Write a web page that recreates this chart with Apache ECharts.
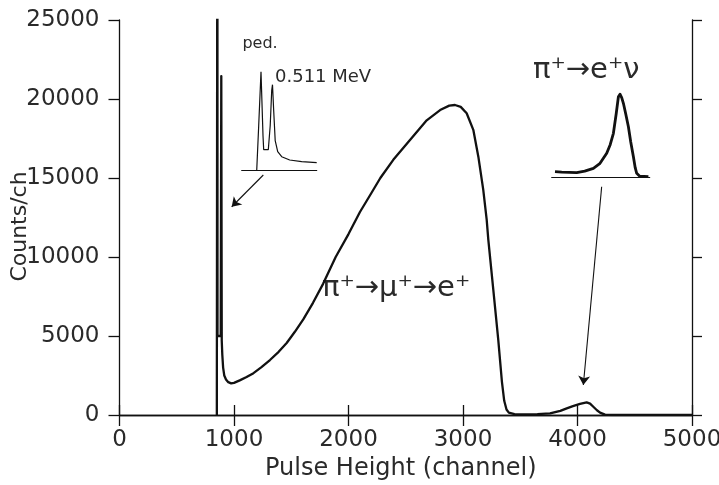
<!DOCTYPE html>
<html>
<head>
<meta charset="utf-8">
<script src="https://cdn.jsdelivr.net/npm/echarts@6/dist/echarts.min.js"></script>
<style>
html,body{margin:0;padding:0;background:#fff;}
#chart{width:719px;height:485px;}
</style>
</head>
<body>
<div id="chart"></div>
<script>
// ---- main spectrum: pulse height (channel) vs counts per channel ----
const channels = [850, 854, 855, 856, 884, 889, 893, 898, 905, 915, 930, 950, 975, 1000,
  1050, 1110, 1170, 1240, 1314, 1390, 1460, 1530, 1605, 1690, 1778, 1888, 2000, 2100,
  2200, 2278, 2391, 2537, 2683, 2800, 2880, 2930, 2980, 3032, 3090, 3134, 3177, 3207,
  3221, 3265, 3308, 3340, 3360, 3380, 3400, 3450, 3550, 3650, 3760, 3850, 3906, 3960,
  4022, 4080, 4110, 4138, 4170, 4197, 4240, 4300, 5000];
const counts = [0, 0, 40000, 5000, 5000, 21450, 4700, 3800, 3000, 2500, 2250, 2080, 2000, 2030,
  2190, 2400, 2650, 3030, 3480, 4000, 4560, 5250, 6050, 7100, 8300, 10000, 11450, 12850,
  14050, 15000, 16150, 17400, 18650, 19300, 19580, 19620, 19500, 19100, 18050, 16350, 14250, 12350,
  11100, 7900, 4750, 2100, 900, 350, 150, 60, 40, 50, 100, 260, 420, 560,
  700, 800, 720, 525, 300, 150, 20, 0, 0];

// ---- inset 1: pedestal and 0.511 MeV peaks (arbitrary units) ----
const pedX = [15, 17, 19.3, 21.3, 22, 24, 26.6, 28.5, 30, 30.8, 32, 33.5, 36, 40, 48, 60, 75];
const pedY = [0, 45, 99, 35, 21, 20, 21, 45, 80, 86, 60, 30, 19, 14, 10.7, 9, 8];

// ---- inset 2: pi -> e nu peak (arbitrary units) ----
const enuX = [3.3, 10, 25, 33, 41.7, 48, 55, 58.5, 61.7, 64.5, 66.7, 68.3, 70, 71.7, 74, 76.7, 79, 81.7, 83.5, 85, 88, 90, 96.7];
const enuY = [6, 5.5, 5, 6.5, 9.4, 14, 24.4, 33, 44.4, 64, 81, 83.5, 80, 74.4, 64, 51, 36, 21, 10, 4.4, 1.5, 1, 1];

// ---- axes ----
const xMin = 0, xMax = 5000, xStep = 1000;
const yMin = 0, yMax = 25000, yStep = 5000;
const xTitle = 'Pulse Height (channel)';
const yTitle = 'Counts/ch';

// ---- annotations ----
const arrowPed = [[1256, 15190], [980, 13180]];
const arrowEnu = [[4211, 14450], [4051, 1900]];

const FONT = '"DejaVu Sans", sans-serif';
const INK = '#111';
const TXT = '#2a2a2a';

const pairs = (xs, ys) => xs.map((x, i) => [x, ys[i]]);

const frameLine = {lineStyle: {color: INK, width: 1.3}};
const tick = len => ({show: true, inside: false, length: len, lineStyle: {color: INK, width: 1.3}});

const chart = echarts.init(document.getElementById('chart'), null, {renderer: 'canvas'});
chart.setOption({
  animation: false,
  backgroundColor: '#fff',
  grid: [
    {left: 119.5, right: 27, top: 20, bottom: 70, outerBoundsMode: 'none', containLabel: false},
    {left: 241.7, width: 75, top: 70.7, height: 100, outerBoundsMode: 'none', containLabel: false},
    {left: 551.7, width: 98, top: 77.7, height: 100, outerBoundsMode: 'none', containLabel: false}
  ],
  xAxis: [
    {gridIndex: 0, type: 'value', min: xMin, max: xMax, interval: xStep, position: 'bottom',
     axisLine: frameLine, axisTick: tick(11), splitLine: {show: false},
     axisLabel: {fontSize: 23, color: TXT, fontFamily: FONT, margin: 14, formatter: v => String(v)},
     name: xTitle, nameLocation: 'middle', nameGap: 42, nameMoveOverlap: false,
     nameTextStyle: {fontSize: 24, color: TXT, fontFamily: FONT, padding: [0, 10, 0, 0]}},
    {gridIndex: 0, type: 'value', min: xMin, max: xMax, interval: xStep, position: 'top',
     axisLine: frameLine, axisTick: tick(10), splitLine: {show: false}, axisLabel: {show: false}},
    {gridIndex: 1, type: 'value', min: 0, max: 75, position: 'bottom',
     axisLine: {onZero: false, lineStyle: {color: INK, width: 1.2}}, axisTick: {show: false},
     axisLabel: {show: false}, splitLine: {show: false}},
    {gridIndex: 2, type: 'value', min: 0, max: 98, position: 'bottom',
     axisLine: {onZero: false, lineStyle: {color: INK, width: 1.2}}, axisTick: {show: false},
     axisLabel: {show: false}, splitLine: {show: false}}
  ],
  yAxis: [
    {gridIndex: 0, type: 'value', min: yMin, max: yMax, interval: yStep, position: 'left',
     axisLine: {show: true, onZero: false, lineStyle: {color: INK, width: 1.3}}, axisTick: tick(11),
     splitLine: {show: false},
     axisLabel: {fontSize: 23, color: TXT, fontFamily: FONT, margin: 20, formatter: v => String(v)},
     name: yTitle, nameLocation: 'middle', nameGap: 88, nameRotate: 90, nameMoveOverlap: false,
     nameTextStyle: {fontSize: 22, color: TXT, fontFamily: FONT, padding: [0, 18, 0, 0]}},
    {gridIndex: 0, type: 'value', min: yMin, max: yMax, interval: yStep, position: 'right',
     axisLine: {show: true, onZero: false, lineStyle: {color: INK, width: 1.3}}, axisTick: tick(10),
     splitLine: {show: false}, axisLabel: {show: false}},
    {gridIndex: 1, type: 'value', min: 0, max: 100, show: false},
    {gridIndex: 2, type: 'value', min: 0, max: 100, show: false}
  ],
  series: [
    {type: 'line', xAxisIndex: 0, yAxisIndex: 0, data: pairs(channels, counts),
     showSymbol: false, symbol: 'none', clip: true, silent: true,
     lineStyle: {color: INK, width: 2.3, join: 'round'},
     markLine: {
       silent: true, animation: false, symbol: ['none', 'arrow'], symbolSize: 9,
       label: {show: false},
       lineStyle: {color: INK, width: 1.1, type: 'solid'},
       data: [
         [{coord: arrowPed[0]}, {coord: arrowPed[1]}],
         [{coord: arrowEnu[0]}, {coord: arrowEnu[1]}]
       ]
     }},
    {type: 'line', xAxisIndex: 2, yAxisIndex: 2, data: pairs(pedX, pedY),
     showSymbol: false, symbol: 'none', silent: true,
     lineStyle: {color: INK, width: 1.2}},
    {type: 'line', xAxisIndex: 3, yAxisIndex: 3, data: pairs(enuX, enuY),
     showSymbol: false, symbol: 'none', silent: true,
     lineStyle: {color: INK, width: 2.8, join: 'round'}}
  ],
  graphic: [
    {type: 'text', x: 260, y: 44, silent: true,
     style: {text: 'ped.', fontSize: 16, fontFamily: FONT, fill: TXT, align: 'center', verticalAlign: 'middle'}},
    {type: 'text', x: 275, y: 77.5, silent: true,
     style: {text: '0.511 MeV', fontSize: 18, fontFamily: FONT, fill: TXT, align: 'left', verticalAlign: 'middle'}},
    {type: 'text', x: 533, y: 70, silent: true,
     style: {text: 'π⁺→e⁺ν', fontSize: 29, fontFamily: FONT, fill: TXT, align: 'left', verticalAlign: 'middle'}},
    {type: 'text', x: 322, y: 288, silent: true,
     style: {text: 'π⁺→μ⁺→e⁺', fontSize: 29, fontFamily: FONT, fill: TXT, align: 'left', verticalAlign: 'middle'}}
  ]
});
</script>
</body>
</html>
